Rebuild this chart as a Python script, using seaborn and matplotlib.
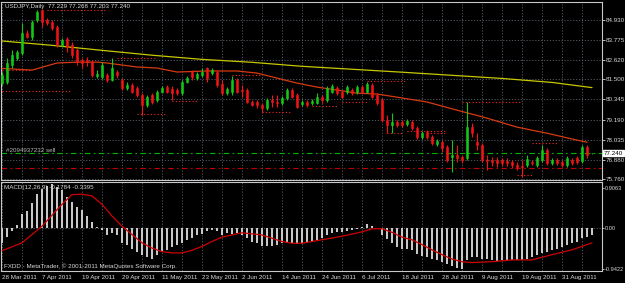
import matplotlib
matplotlib.use('Agg')
import numpy as np
import pandas as pd
import matplotlib.pyplot as plt
import seaborn as sns

# daily USDJPY bars, 28 Mar 2011 .. early Sep 2011
opens = [81.29, 81.35, 82.33, 82.74, 83.02, 84.18, 83.95, 84.93, 85.51, 84.93,
         84.81, 84.53, 83.49, 83.83, 83.49, 83.20, 82.62, 82.62, 82.50, 81.70,
         81.64, 81.75, 81.47, 81.93, 81.47, 81.00, 81.18, 81.00, 80.60, 80.02,
         80.60, 80.31, 80.77, 81.06, 80.94, 80.89, 80.71, 81.35, 81.93, 81.58,
         81.75, 82.16, 81.87, 81.93, 81.23, 80.71, 80.77, 81.47, 80.89, 80.89,
         80.20, 80.20, 80.02, 79.85, 80.31, 80.20, 80.14, 80.43, 80.89, 80.60,
         80.08, 80.20, 80.14, 80.14, 80.48, 80.31, 80.77, 81.00, 80.77, 80.77,
         80.89, 80.77, 81.06, 80.77, 81.18, 80.60, 80.31, 79.15, 78.87, 79.04,
         79.04, 78.93, 79.04, 78.69, 78.17, 78.46, 78.17, 77.77, 77.88, 77.60,
         77.02, 77.13, 77.02, 76.96, 78.75, 77.88, 77.71, 76.85, 76.85, 76.85,
         76.85, 76.79, 76.73, 76.56, 76.50, 76.56, 76.73, 76.56, 76.85, 77.42,
         76.67, 76.85, 76.73, 76.56, 76.85, 76.96, 76.79, 77.60, 77.229]
highs = [81.93, 82.74, 83.20, 83.20, 84.76, 84.35, 84.93, 85.51, 85.56, 85.05,
         84.93, 84.64, 83.89, 83.95, 83.66, 83.31, 82.74, 82.80, 82.62, 82.04,
         82.50, 81.87, 82.74, 82.04, 81.58, 81.35, 81.29, 81.12, 80.71, 80.60,
         80.71, 80.89, 81.12, 81.18, 81.12, 81.00, 81.47, 81.70, 82.04, 81.93,
         82.16, 82.22, 82.16, 82.04, 81.47, 81.06, 81.70, 81.58, 81.18, 81.00,
         80.31, 80.31, 80.14, 80.43, 80.60, 80.60, 80.54, 81.00, 81.00, 80.71,
         80.31, 80.31, 80.37, 80.71, 80.60, 81.12, 81.23, 81.12, 80.89, 81.18,
         81.00, 81.18, 81.18, 81.35, 81.29, 80.71, 80.43, 79.44, 79.56, 79.15,
         79.15, 79.21, 79.15, 78.81, 78.52, 78.58, 78.29, 78.06, 78.00, 77.71,
         78.00, 77.71, 77.13, 80.20, 78.98, 78.40, 77.82, 77.13, 77.02, 77.02,
         76.96, 76.96, 76.85, 76.73, 76.85, 77.13, 76.85, 77.07, 77.71, 77.54,
         76.96, 76.96, 76.85, 77.07, 76.96, 77.07, 77.71, 77.71, 77.268]
lows = [81.18, 81.23, 82.16, 82.62, 82.91, 83.89, 83.78, 84.81, 84.53, 84.64,
        84.35, 83.37, 83.37, 83.08, 82.74, 82.33, 82.16, 82.27, 81.64, 81.58,
        81.52, 81.35, 81.41, 81.58, 80.89, 80.89, 80.71, 80.48, 79.44, 79.90,
        80.08, 80.20, 80.71, 80.71, 80.31, 80.60, 80.60, 81.29, 81.47, 81.47,
        81.64, 81.35, 81.75, 81.06, 80.60, 80.60, 80.60, 80.71, 80.48, 80.14,
        79.96, 79.85, 79.62, 79.73, 79.90, 79.90, 80.02, 80.31, 80.43, 79.85,
        79.96, 79.90, 80.02, 80.08, 80.14, 80.20, 80.71, 80.60, 80.43, 80.66,
        80.60, 80.66, 80.71, 80.71, 80.43, 80.02, 79.04, 78.40, 78.40, 78.75,
        78.75, 78.81, 78.58, 78.06, 78.06, 78.06, 77.71, 77.65, 77.31, 76.73,
        76.15, 76.73, 76.67, 76.85, 78.17, 77.42, 76.73, 76.27, 76.50, 76.44,
        76.50, 76.50, 76.38, 76.27, 75.87, 76.44, 76.56, 76.44, 76.73, 76.56,
        76.56, 76.56, 76.44, 76.44, 76.56, 76.61, 76.67, 76.96, 77.203]
closes = [81.75, 82.45, 82.91, 83.08, 84.18, 83.95, 84.81, 85.39, 84.81, 84.76,
          84.47, 83.49, 83.78, 83.37, 82.91, 82.50, 82.45, 82.50, 81.75, 81.81,
          82.33, 81.47, 82.16, 81.75, 81.00, 81.18, 80.77, 80.60, 80.02, 80.48,
          80.20, 80.77, 81.00, 80.77, 80.71, 80.71, 81.35, 81.58, 81.64, 81.81,
          81.93, 81.58, 82.04, 81.18, 80.71, 80.94, 81.47, 80.77, 80.83, 80.20,
          80.02, 80.02, 79.85, 80.31, 80.20, 80.14, 80.43, 80.89, 80.48, 79.90,
          80.20, 80.02, 80.25, 80.48, 80.31, 81.00, 81.12, 80.71, 80.48, 81.06,
          80.71, 81.06, 80.77, 81.23, 80.48, 80.14, 79.15, 78.87, 79.04, 78.87,
          78.87, 79.10, 78.69, 78.17, 78.40, 78.17, 77.82, 77.94, 77.54, 76.85,
          77.13, 76.96, 76.85, 78.75, 78.40, 77.71, 76.85, 76.79, 76.73, 76.67,
          76.67, 76.67, 76.56, 76.44, 76.44, 76.90, 76.67, 76.96, 77.42, 76.67,
          76.85, 76.67, 76.56, 76.96, 76.67, 76.73, 77.60, 77.13, 77.240]

# moving averages, sampled along the drawn lines
ma_slow_bars = [0, 10, 20, 30, 40, 50, 60, 70, 80, 90, 100, 110, 118]
ma_slow_vals = [83.72, 83.47, 83.18, 82.90, 82.66, 82.49, 82.26, 82.09, 81.92,
                81.74, 81.56, 81.33, 81.03]
ma_fast_bars = [0, 6, 11, 15, 19, 21, 27, 31, 35, 41, 47, 51, 55, 59, 63, 67,
                71, 75, 79, 85, 91, 97, 103, 109, 115, 117]
ma_fast_vals = [82.14, 82.04, 82.45, 82.50, 82.50, 82.45, 82.22, 82.16, 81.93,
                81.99, 81.99, 81.87, 81.58, 81.29, 81.06, 80.89, 80.71, 80.66,
                80.48, 80.20, 79.73, 79.27, 78.75, 78.40, 78.00, 77.88]

# red dotted levels: (price, first bar, last bar)
level_prices = [85.51, 82.04, 80.81, 82.74, 80.25, 79.50, 81.75, 79.62, 79.96,
                80.20, 81.41, 78.40, 78.52, 78.40, 80.20, 77.81, 75.98]
level_from = [9, 0, 0, 23, 34, 27, 46, 52, 62, 68, 73, 77, 81, 85, 92, 106, 103]
level_to = [21, 6, 14, 31, 39, 33, 52, 58, 67, 73, 81, 80, 89, 89, 104, 111, 106]

order_price = 77.240
stop_price = 76.42

macd_hist = [-0.35, -0.21, -0.09, 0.06, 0.30, 0.37, 0.57, 0.76, 0.87, 0.95,
             0.99, 0.92, 0.85, 0.70, 0.58, 0.47, 0.40, 0.27, 0.12, 0.01,
             -0.05, -0.18, -0.13, -0.17, -0.36, -0.40, -0.48, -0.55, -0.63, -0.67,
             -0.71, -0.63, -0.55, -0.52, -0.44, -0.40, -0.36, -0.28, -0.25, -0.17,
             -0.14, -0.09, -0.05, -0.09, -0.17, -0.13, -0.15, -0.13, -0.17, -0.25,
             -0.32, -0.36, -0.42, -0.42, -0.42, -0.40, -0.36, -0.36, -0.36, -0.38,
             -0.36, -0.36, -0.32, -0.28, -0.25, -0.17, -0.13, -0.11, -0.11, -0.09,
             -0.05, -0.04, 0.02, 0.08, 0.04, -0.02, -0.17, -0.27, -0.36, -0.44,
             -0.48, -0.50, -0.52, -0.61, -0.65, -0.68, -0.73, -0.75, -0.79, -0.84,
             -0.89, -0.92, -0.94, -0.75, -0.68, -0.68, -0.71, -0.73, -0.75, -0.76,
             -0.75, -0.75, -0.75, -0.75, -0.75, -0.71, -0.67, -0.63, -0.58, -0.55,
             -0.52, -0.48, -0.44, -0.40, -0.36, -0.32, -0.25, -0.21, -0.18]
signal_bars = [0, 4, 8, 12, 14, 16, 18, 20, 22, 24, 26, 28, 30, 32, 34, 36, 38,
               40, 42, 44, 48, 52, 56, 58, 60, 64, 68, 72, 74, 76, 78, 80, 82,
               84, 86, 88, 90, 92, 94, 98, 102, 106, 110, 114, 118]
signal_vals = [-0.53, -0.35, 0.03, 0.53, 0.75, 0.76, 0.72, 0.53, 0.26, 0.03,
               -0.16, -0.35, -0.47, -0.55, -0.58, -0.58, -0.52, -0.43, -0.32,
               -0.22, -0.12, -0.17, -0.32, -0.36, -0.36, -0.28, -0.20, -0.10,
               -0.03, -0.03, -0.11, -0.22, -0.28, -0.39, -0.51, -0.62, -0.72,
               -0.78, -0.80, -0.78, -0.74, -0.74, -0.62, -0.51, -0.35]

date_labels = ['28 Mar 2011', '7 Apr 2011', '19 Apr 2011', '29 Apr 2011',
               '11 May 2011', '23 May 2011', '2 Jun 2011', '14 Jun 2011',
               '24 Jun 2011', '6 Jul 2011', '18 Jul 2011', '28 Jul 2011',
               '9 Aug 2011', '19 Aug 2011', '31 Aug 2011']
price_ticks = [84.930, 83.775, 82.620, 81.500, 80.345, 79.190, 78.035, 76.880, 75.760]
macd_ticks = [0.9063, 0.0, -0.9422]
macd_tick_labels = ['0.9063', '0.00', '-0.9422']

sns.set_style('dark')
plt.rcParams['font.family'] = ['Liberation Sans', 'DejaVu Sans']

W, H = 625, 283
fs = 4.5
fg = '#d8d8d8'
grid_c = '#5a626c'
fig = plt.figure(figsize=(W / 100, H / 100), dpi=100, facecolor='black')
ax = fig.add_axes([1 / W, 1 - 180 / H, 601 / W, 178 / H])
ax2 = fig.add_axes([1 / W, 1 - 271 / H, 601 / W, 89 / H])

for a in (ax, ax2):
    a.set_facecolor('black')
    for s in a.spines.values():
        s.set_color('#c8c8c8')
        s.set_linewidth(0.8)
    a.set_xlim(-0.2, 120)
    for k in range(0, 121, 4):
        a.axvline(k, color=grid_c, ls=(0, (1.5, 2)), lw=0.6, zorder=0)
    a.yaxis.tick_right()
    a.tick_params(axis='y', colors=fg, labelsize=fs, length=2, width=0.6, pad=0.8)
    a.grid(False)

# price pane
df = pd.DataFrame({'open': opens, 'high': highs, 'low': lows, 'close': closes})
df['bar'] = np.arange(len(df))
bull = df['close'] >= df['open']
colors = np.where(bull, '#16c816', '#f01414')

for p in price_ticks:
    ax.axhline(p, color=grid_c, ls=(0, (1.5, 2)), lw=0.6, zorder=0)

ax.hlines(level_prices, level_from, level_to, colors='#ff1e1e',
          linestyles=(0, (1, 2)), lw=0.8, zorder=2)
ax.axhline(order_price, color='#00b400', ls=(0, (5, 3, 1.5, 3)), lw=0.8, zorder=2)
ax.axhline(stop_price, color='#c00000', ls=(0, (5, 3, 1.5, 3)), lw=0.8, zorder=2)

sns.lineplot(x=ma_slow_bars, y=ma_slow_vals, ax=ax, color='#c8c800', lw=0.9, zorder=3)
sns.lineplot(x=ma_fast_bars, y=ma_fast_vals, ax=ax, color='#d83a10', lw=0.9, zorder=3)

ax.vlines(df['bar'], df['low'], df['high'], colors=colors, lw=0.8, zorder=4)
ax.bar(df['bar'], (df['close'] - df['open']).abs(),
       bottom=df[['open', 'close']].min(axis=1), width=0.55,
       color=colors, edgecolor=colors, lw=0.4, zorder=5)

ax.set_ylim(75.70, 85.97)
ax.set_yticks(price_ticks)
ax.set_yticklabels(['%.3f' % p for p in price_ticks])
ax.set_xticks([])
ax.set_xlabel('')
ax.set_ylabel('')
ax.text(1.003, order_price, '77.240', transform=ax.get_yaxis_transform(),
        ha='left', va='center', fontsize=fs, color='black', clip_on=False,
        bbox=dict(fc='white', ec='white', pad=0.4))

# MACD pane
ax2.axhline(0, color=grid_c, ls=(0, (1.5, 2)), lw=0.6, zorder=0)
ax2.bar(np.arange(len(macd_hist)), macd_hist, width=0.34, color='#c8c8c8',
        lw=0, zorder=3)
sns.lineplot(x=signal_bars, y=signal_vals, ax=ax2, color='#d00000', lw=0.9, zorder=4)
ax2.set_ylim(-0.993, 1.039)
ax2.set_yticks(macd_ticks)
ax2.set_yticklabels(macd_tick_labels)
ax2.tick_params(axis='y', labelsize=4.1, length=1.5, pad=0.5)
ax2.set_xticks(range(0, 8 * len(date_labels), 8))
ax2.set_xticklabels(date_labels, ha='left')
ax2.tick_params(axis='x', colors=fg, labelsize=fs, length=2, width=0.6, pad=1)
ax2.set_xlabel('')
ax2.set_ylabel('')

fig.text(5 / W, 1 - 6.5 / H, 'USDJPY,Daily  77.229 77.268 77.203 77.240',
         color=fg, fontsize=fs, va='center')
fig.text(6 / W, 1 - 150 / H, '#2094937232 sell', color='#b8b8b8', fontsize=fs, va='center')
fig.text(4 / W, 1 - 188 / H, 'MACD(12,26,9) -0.1784 -0.3395', color=fg, fontsize=fs, va='center')
fig.text(4 / W, 1 - 266 / H, 'FXDD - MetaTrader, © 2001-2011 MetaQuotes Software Corp.',
         color=fg, fontsize=fs, va='center')

fig.savefig('out.png', dpi=100, facecolor='black')
